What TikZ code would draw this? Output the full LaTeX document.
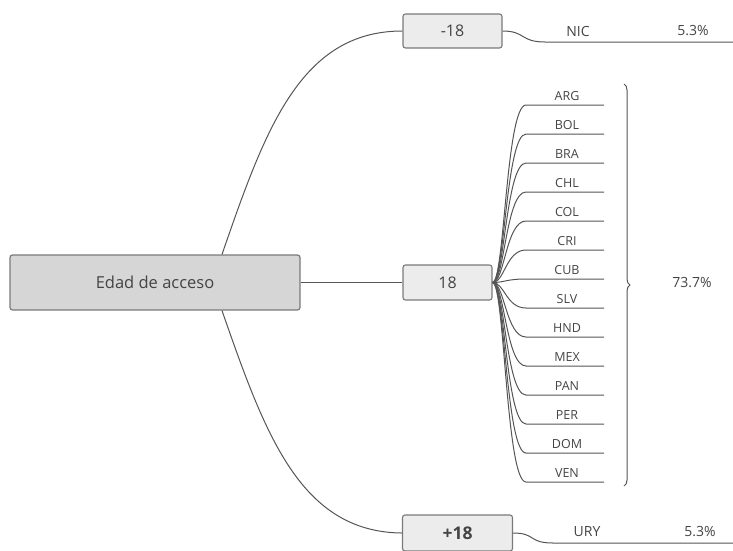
\documentclass[tikz,border=0pt]{standalone}
\usepackage{fontspec}
\setmainfont{Open Sans}
\usetikzlibrary{decorations.pathreplacing}
\definecolor{txt}{HTML}{444444}
\definecolor{ln}{HTML}{555555}
\definecolor{mainfill}{HTML}{D6D6D6}
\definecolor{subfill}{HTML}{ECECEC}
\definecolor{bord}{HTML}{7A7A7A}
\begin{document}
\begin{tikzpicture}[x=1pt,y=-1pt,
  conn/.style={draw=ln,line width=1pt},
  mainbox/.style={draw=bord,line width=1.2pt,fill=mainfill,rounded corners=2.5pt,minimum width=290pt,minimum height=55pt,inner sep=0pt,text=txt,font=\fontsize{16.5}{19}\selectfont},
  subbox/.style={draw=bord,line width=1.1pt,fill=subfill,rounded corners=2.5pt,inner sep=0pt,minimum height=34pt,text=txt,font=\fontsize{16}{18}\selectfont},
  lbl/.style={inner sep=0pt,text=txt,font=\fontsize{14}{16}\selectfont},
  ctry/.style={inner sep=0pt,text=txt,font=\fontsize{12.5}{14}\selectfont,anchor=base},
  brc/.style={draw=ln,line width=1pt,decorate,decoration={brace,amplitude=6pt}}
]
\useasboundingbox (0,0) rectangle (733,550);

\node[mainbox] (main) at (155,282.5) {Edad de acceso};
\node[subbox,minimum width=99pt] (m18) at (452.5,31) {-18};
\node[subbox,minimum width=89pt,minimum height=35pt] (e18) at (447.5,282.5) {18};
\node[subbox,minimum width=110pt,minimum height=36pt,font=\fontsize{17.5}{19}\selectfont\bfseries] (p18) at (457.5,533) {+18};

% main connectors
\draw[conn] ([xshift=67pt]main.north) .. controls (265,130) and (300,31) .. (m18.west);
\draw[conn] (main.east) -- (e18.west);
\draw[conn] ([xshift=67pt]main.south) .. controls (265,434) and (300,532) .. (p18.west);

% -18 branch
\coordinate (nicA) at (545,42);
\coordinate (nicB) at (733,42);
\draw[conn] (m18.east) .. controls +(23,0) and (520,42) .. (nicA) -- (nicB);
\node[lbl] (nic) at (578,31) {NIC};
\node[lbl] (nicp) at (693,31) {5.3\%};

% +18 branch
\coordinate (uryA) at (553,543);
\coordinate (uryB) at (733,543);
\draw[conn] (p18.east) .. controls +(23,0) and (528,543) .. (uryA) -- (uryB);
\node[lbl] (ury) at (587,532) {URY};
\node[lbl] (uryp) at (700,532) {5.3\%};

% 18 branch: countries
\foreach \c [count=\i from 0] in {ARG,BOL,BRA,CHL,COL,CRI,CUB,SLV,HND,MEX,PAN,PER,DOM,VEN}{
  \pgfmathsetmacro{\yy}{105+29*\i}
  \coordinate (s\c) at (526,\yy);
  \coordinate (e\c) at (604,\yy);
  \node[ctry] (n\c) at (567,\yy-5) {\c};
  \draw[conn] (e18.east) .. controls +(12,0) and ([xshift=-20pt]s\c) .. (s\c) -- (e\c);
}

% brace
\coordinate (bt) at (624,84);
\coordinate (bb) at (624,486);
\draw[brc] (bt) -- (bb);
\node[lbl] (pct) at (692,283) {73.7\%};
\end{tikzpicture}
\end{document}
